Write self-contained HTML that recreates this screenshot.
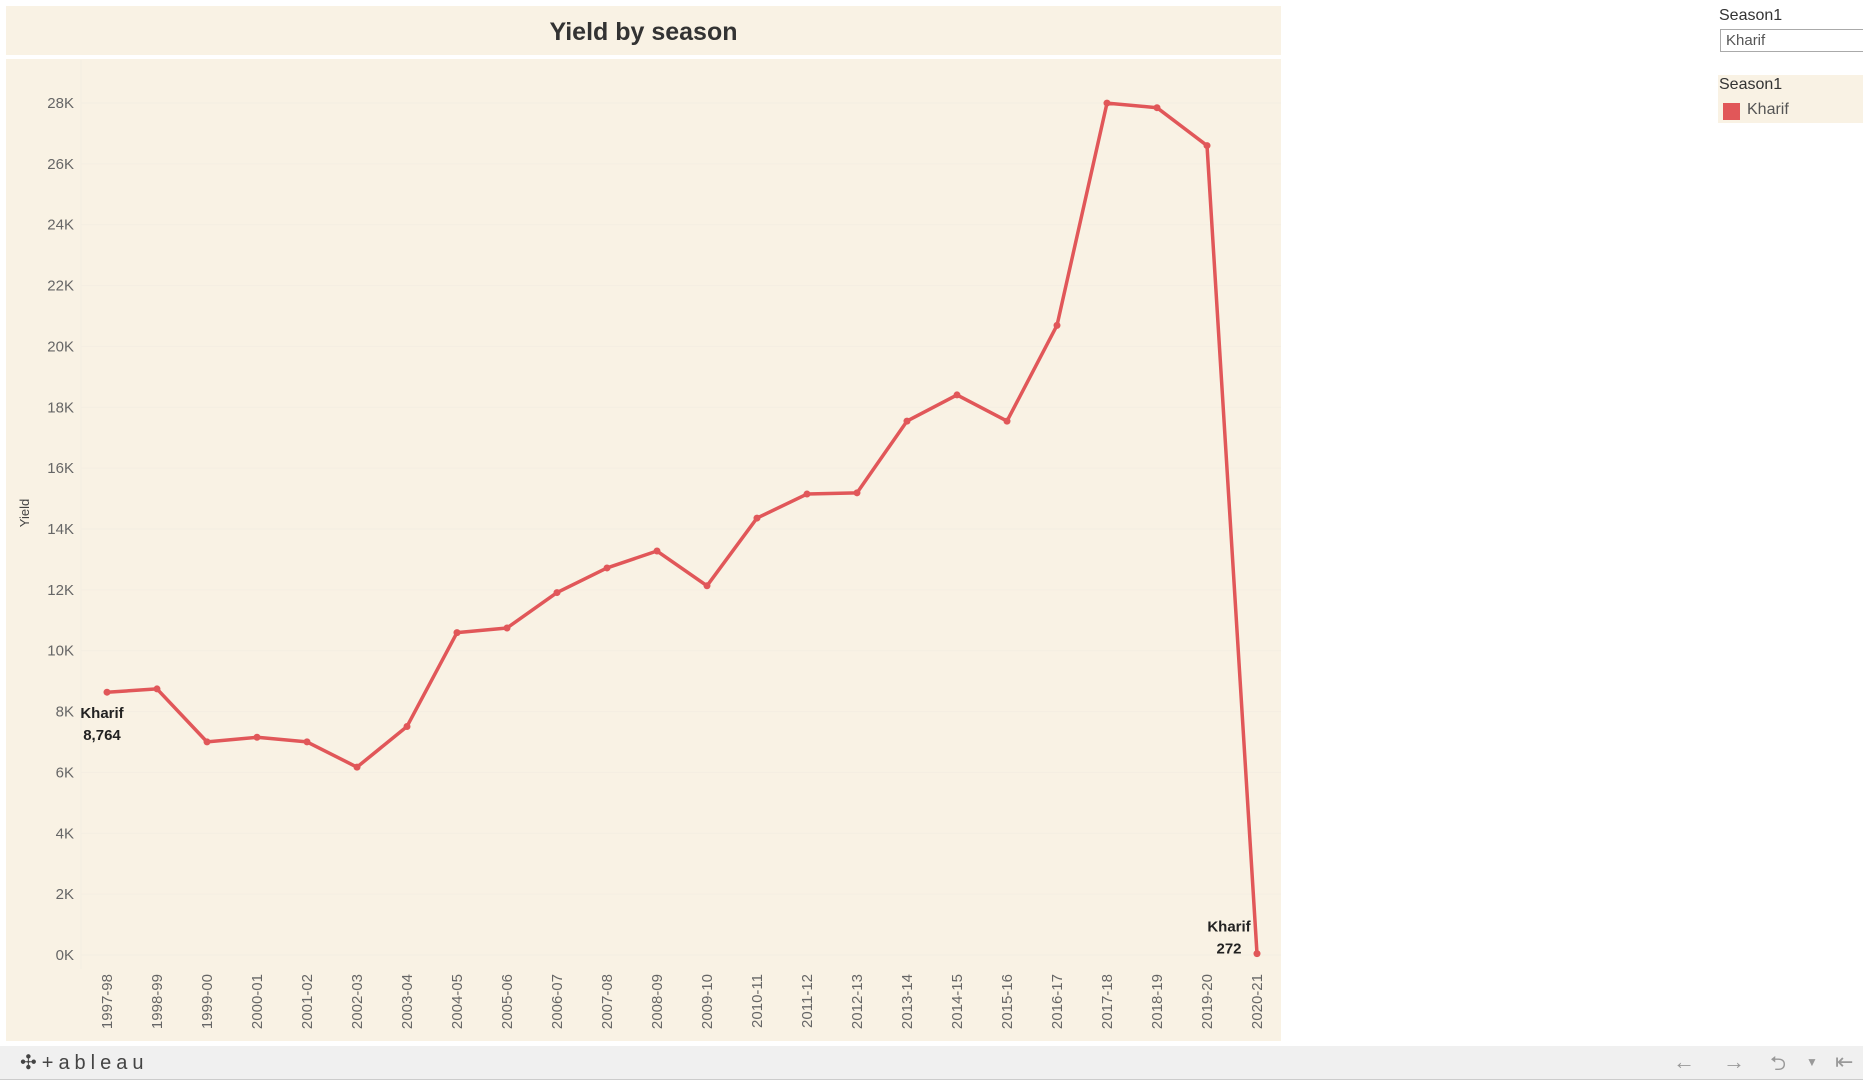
<!DOCTYPE html>
<html><head><meta charset="utf-8"><style>
body{margin:0;width:1863px;height:1080px;background:#fff;overflow:hidden;font-family:"Liberation Sans",sans-serif;position:relative}
.abs{position:absolute}
</style></head><body>
<div class="abs" style="left:6px;top:6px;width:1275px;height:49px;background:#f9f2e4"></div>
<div class="abs" style="left:6px;top:18px;width:1275px;text-align:center;font-size:25px;font-weight:bold;color:#333">Yield by season</div>
<div class="abs" style="left:6px;top:59px;width:1275px;height:982px;background:#f9f2e4"></div>
<svg class="abs" style="left:0;top:0" width="1863" height="1080" id="chart"></svg>
<div class="abs" style="left:1719px;top:7px;font-size:16px;color:#333">Season1</div>
<div class="abs" style="left:1720px;top:29px;width:150px;border:1px solid #aaa;background:#fff;font-size:15px;color:#555;line-height:21px;padding-left:5px;box-sizing:border-box;height:23px">Kharif</div>
<div class="abs" style="left:1718px;top:75px;width:145px;height:48px;background:#f9f2e4"></div>
<div class="abs" style="left:1719px;top:76px;font-size:16px;color:#333">Season1</div>
<div class="abs" style="left:1723px;top:103px;width:17px;height:17px;background:#e15759"></div>
<div class="abs" style="left:1747px;top:101px;font-size:16px;color:#555">Kharif</div>
<div class="abs" style="left:0;top:1046px;width:1863px;height:33px;background:#f0f0f0;border-bottom:1px solid #ccc"></div>
<div class="abs" style="left:20px;top:1050px;font-size:20px;color:#444;letter-spacing:5px">✣+ableau</div>
<div class="abs" style="left:1673px;top:1049px;font-size:22px;color:#999">←</div>
<div class="abs" style="left:1723px;top:1049px;font-size:22px;color:#999">→</div>
<div class="abs" style="left:1770px;top:1049px;font-size:20px;color:#999">⮌</div>
<div class="abs" style="left:1806px;top:1055px;font-size:12px;color:#999">▼</div>
<div class="abs" style="left:1835px;top:1049px;font-size:22px;color:#999">⇤</div>
<script>
const categories=["1997-98","1998-99","1999-00","2000-01","2001-02","2002-03","2003-04","2004-05","2005-06","2006-07","2007-08","2008-09","2009-10","2010-11","2011-12","2012-13","2013-14","2014-15","2015-16","2016-17","2017-18","2018-19","2019-20","2020-21"];
const yieldValues=[8764,8870,7150,7300,7150,6330,7650,10700,10850,12000,12800,13350,12220,14420,15200,15240,17570,18420,17570,20680,27900,27750,26520,272];
const yTicks=[0,2000,4000,6000,8000,10000,12000,14000,16000,18000,20000,22000,24000,26000,28000];
const yTickLabels=["0K","2K","4K","6K","8K","10K","12K","14K","16K","18K","20K","22K","24K","26K","28K"];
const svg=document.getElementById('chart');
const NS='http://www.w3.org/2000/svg';
const x=i=>107+i*50;
const y=v=>962-v*(862/28000);
const yLab=v=>957-v*(852/28000);
function mk(t,a){const e=document.createElementNS(NS,t);for(const k in a)e.setAttribute(k,a[k]);svg.appendChild(e);return e;}
yTicks.forEach((v,i)=>{
 const g=mk('line',{x1:81,x2:1281,y1:yLab(v)-2,y2:yLab(v)-2,stroke:'#f4eee2','stroke-width':1});
 
 
 const t=mk('text',{x:74,y:yLab(v)+3,'text-anchor':'end','font-size':15,fill:'#666','font-family':'Liberation Sans'});
 t.textContent=yTickLabels[i];
 
 
});
const ax=mk('line',{x1:81,x2:81,y1:60,y2:969,stroke:'#f4eee2'});


const yt=mk('text',{x:0,y:0,transform:'translate(29,513) rotate(-90)','text-anchor':'middle','font-size':13,fill:'#444','font-family':'Liberation Sans'});
yt.textContent='Yield';


categories.forEach((c,i)=>{
 const t=mk('text',{x:0,y:0,transform:`translate(${x(i)+5},974) rotate(-90)`,'text-anchor':'end','font-size':15,fill:'#666','font-family':'Liberation Sans'});
 t.textContent=c;
 
 
});
const p=mk('polyline',{points:yieldValues.map((v,i)=>x(i)+','+y(v)).join(' '),fill:'none',stroke:'#e15759','stroke-width':3.5,'stroke-linejoin':'round'});


yieldValues.forEach((v,i)=>{
 const c=mk('circle',{cx:x(i),cy:y(v),r:3.5,fill:'#e15759'});
 
 
});
function lbl(i,dx,dy,anchor){
 const t1=mk('text',{x:x(i)+dx,y:y(yieldValues[i])+dy,'text-anchor':anchor,'font-size':15,'font-weight':'bold',fill:'#222','font-family':'Liberation Sans'});
 t1.textContent='Kharif';
 
 
 const t2=mk('text',{x:x(i)+dx,y:y(yieldValues[i])+dy+22,'text-anchor':anchor,'font-size':15,'font-weight':'bold',fill:'#222','font-family':'Liberation Sans'});
 t2.textContent=yieldValues[i].toLocaleString('en-US');
 
 
}
lbl(0,-5,26,'middle');
lbl(yieldValues.length-1,-28,-22,'middle');
</script>
</body></html>
